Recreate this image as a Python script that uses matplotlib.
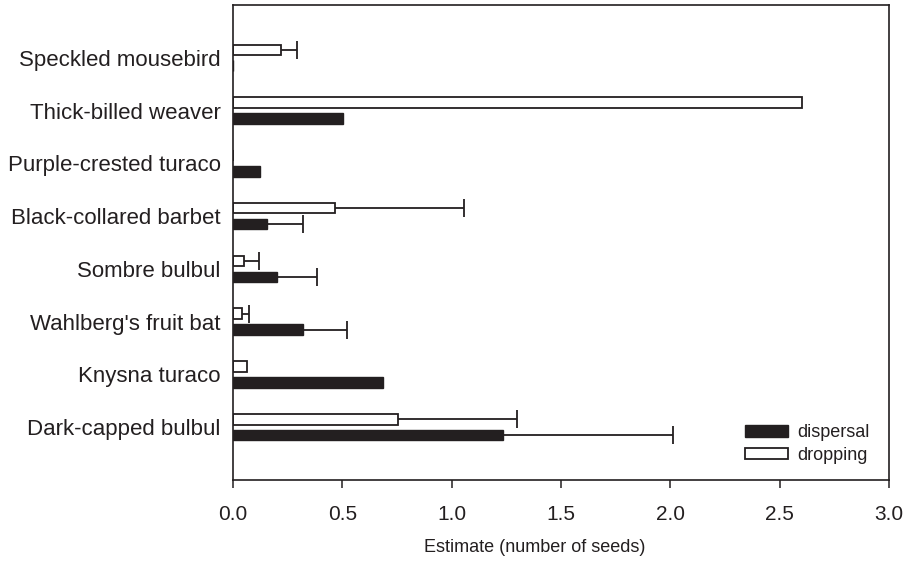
import numpy as np
import matplotlib
matplotlib.use("Agg")
import matplotlib.pyplot as plt
from matplotlib.patches import Patch

plt.rcParams['font.family'] = ['Liberation Sans', 'DejaVu Sans']

ink = '#231f20'

# species, listed top to bottom as in the figure
species = ["Speckled mousebird", "Thick-billed weaver", "Purple-crested turaco",
           "Black-collared barbet", "Sombre bulbul", "Wahlberg's fruit bat",
           "Knysna turaco", "Dark-capped bulbul"]

dispersal = [0.0, 0.505, 0.125, 0.155, 0.20, 0.32, 0.685, 1.235]
dispersal_err = [np.nan, np.nan, np.nan, 0.165, 0.185, 0.20, np.nan, 0.775]

dropping = [0.22, 2.60, 0.0, 0.466, 0.05, 0.04, 0.065, 0.755]
dropping_err = [0.073, np.nan, np.nan, 0.59, 0.07, 0.035, np.nan, 0.545]

fig = plt.figure(figsize=(9.05, 5.68), dpi=100)
ax = fig.add_axes([233 / 905, 1 - 480 / 568, (889 - 233) / 905, (480 - 5) / 568])

n = len(species)
ypos = np.arange(n)[::-1]
h = 0.2
off = 0.15

ax.barh(ypos - off, dispersal, height=h, color=ink, edgecolor=ink, linewidth=1.0)
ax.barh(ypos + off, dropping, height=h, color='white', edgecolor=ink, linewidth=1.3)

# one-sided error bars, only where the figure shows them
for vals, errs, shift in [(dispersal, dispersal_err, -off), (dropping, dropping_err, off)]:
    vals = np.array(vals)
    errs = np.array(errs)
    m = ~np.isnan(errs)
    eb = ax.errorbar(vals[m], ypos[m] + shift, xerr=[np.zeros(m.sum()), errs[m]],
                     fmt='none', ecolor=ink, elinewidth=1.3, capsize=6.5, capthick=1.3)
    eb[1][0].set_visible(False)  # no cap at the bar end

ax.set_xlim(0, 3.0)
ax.set_ylim(-1, n)
ax.set_xticks(np.arange(0, 3.01, 0.5))
ax.set_xticklabels([f"{v:.1f}" for v in np.arange(0, 3.01, 0.5)])
ax.set_yticks(ypos)
ax.set_yticklabels(species)
ax.tick_params(axis='y', length=0, pad=9, labelsize=16, labelcolor=ink)
ax.tick_params(axis='x', length=6, width=1.1, color=ink, pad=12, labelsize=15, labelcolor=ink)
for s in ax.spines.values():
    s.set_linewidth(1.2)
    s.set_color(ink)

ax.set_xlabel("Estimate (number of seeds)", fontsize=13, color=ink)
ax.xaxis.set_label_coords(0.46, -0.125)

handles = [Patch(facecolor=ink, edgecolor=ink, label='dispersal'),
           Patch(facecolor='white', edgecolor=ink, linewidth=1.3, label='dropping')]
ax.legend(handles=handles, loc='lower right', bbox_to_anchor=(0.995, 0.0), frameon=False,
          fontsize=13, handlelength=2.4, handleheight=0.6, handletextpad=0.5,
          labelspacing=0.3, labelcolor=ink)

fig.savefig("out.png", dpi=100)
